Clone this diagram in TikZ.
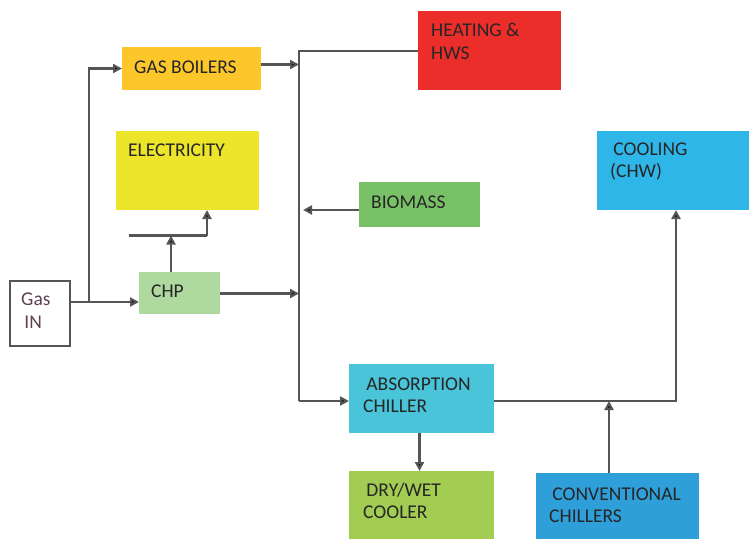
\documentclass[tikz,border=0pt]{standalone}
\usepackage{fontspec}
\setmainfont{Carlito}
\usetikzlibrary{arrows.meta}
\definecolor{cBoil}{HTML}{FDC72C}
\definecolor{cElec}{HTML}{EDE52A}
\definecolor{cChp}{HTML}{AEDA9F}
\definecolor{cHeat}{HTML}{EC2E2A}
\definecolor{cBio}{HTML}{79C166}
\definecolor{cCool}{HTML}{2FB6E8}
\definecolor{cAbs}{HTML}{4AC4D9}
\definecolor{cDry}{HTML}{A3CC53}
\definecolor{cConv}{HTML}{2F9FDA}
\definecolor{cLine}{HTML}{555555}
\definecolor{cText}{HTML}{262626}
\definecolor{cGas}{HTML}{5E4150}
\tikzset{
  box/.style={anchor=north west, inner sep=0pt, outer sep=0pt},
  lbl/.style={anchor=west, inner sep=0pt, align=left, text=cText,
    font=\fontsize{19.5}{22.5}\selectfont},
  flow/.style={draw=cLine, line width=2.2pt,
    -{Triangle[length=9pt,width=9pt,fill=black]}},
  wire/.style={draw=cLine, line width=2.2pt},
}
\begin{document}
\begin{tikzpicture}[x=1pt,y=-1pt]
\useasboundingbox (0,0) rectangle (749,538);
% boxes
\node[box, fill=cBoil, minimum width=139pt, minimum height=43pt] (boil) at (122,47) {};
\node[box, fill=cElec, minimum width=143pt, minimum height=79pt] (elec) at (116,131) {};
\node[box, fill=cChp,  minimum width=81pt,  minimum height=42pt] (chp)  at (139,272) {};
\node[box, draw=cLine, line width=1.8pt, fill=white, minimum width=60pt, minimum height=65pt] (gasin) at (9.8,280.8) {};
\node[box, fill=cHeat, minimum width=143pt, minimum height=79pt] (heat) at (418,11) {};
\node[box, fill=cBio,  minimum width=121pt, minimum height=45pt] (bio)  at (359,182) {};
\node[box, fill=cCool, minimum width=152pt, minimum height=79pt] (cool) at (597,131) {};
\node[box, fill=cAbs,  minimum width=145pt, minimum height=69pt] (abs)  at (349,364) {};
\node[box, fill=cDry,  minimum width=145pt, minimum height=70pt] (dry)  at (349,471) {};
\node[box, fill=cConv, minimum width=163pt, minimum height=68pt] (conv) at (536,473) {};
% labels
\node[lbl] (boilT) at (134,67) {GAS BOILERS};
\node[lbl] (elecT) at (128,150) {ELECTRICITY};
\node[lbl] (chpT)  at (151,291) {CHP};
\node[lbl, text=cGas] (gasT) at (21,310.5) {Gas\\\,IN};
\node[lbl] (heatT) at (431,41.5) {HEATING \&\\HWS};
\node[lbl] (bioT)  at (371,202) {BIOMASS};
\node[lbl] (coolT) at (610,161.5) {\,COOLING\\(CHW)};
\node[lbl] (absT)  at (363,395) {\,ABSORPTION\\CHILLER};
\node[lbl] (dryT)  at (363,501) {\,DRY/WET\\COOLER};
\node[lbl] (convT) at (549,505) {\,CONVENTIONAL\\CHILLERS};
% junction points
\coordinate (gasJ)  at (89,302);
\coordinate (busT)  at (299,51);
\coordinate (busB)  at (299,401);
\coordinate (elJ)   at (171,235.5);
\coordinate (elL)   at (129,235.5);
\coordinate (elR)   at (207,235.5);
\coordinate (coolJ) at (676,401);
\coordinate (convJ) at (609,401);
% gas supply
\draw[flow] (gasin.east |- gasJ) -- (chp.west |- gasJ);
\draw[flow] (gasJ) |- (boil.west);
\draw[flow] ([yshift=4pt]boil.east) -- ([yshift=4pt]boil.east -| busT);
% heat bus
\draw[wire] (heat.west |- busT) -- (busT) -- (busB);
\draw[flow] (busB) -- (abs.west |- busB);
\draw[flow] (bio.west |- 0,210) -- (303,210);
\draw[flow] ([yshift=-0.5pt]chp.east) -- ([yshift=-0.5pt]chp.east -| busT);
% electricity from CHP
\draw[flow] (chp.north -| elJ) -- (elJ);
\draw[wire] (elL) -- (elR);
\draw[flow] (elR) -- (elR |- elec.south);
% cooling
\draw[flow] (abs.east |- coolJ) -- (coolJ) -- (coolJ |- cool.south);
\draw[flow] (conv.north -| convJ) -- (convJ);
\draw[flow] (abs.south -| 419.5,0) -- (dry.north -| 419.5,0);
\end{tikzpicture}
\end{document}
